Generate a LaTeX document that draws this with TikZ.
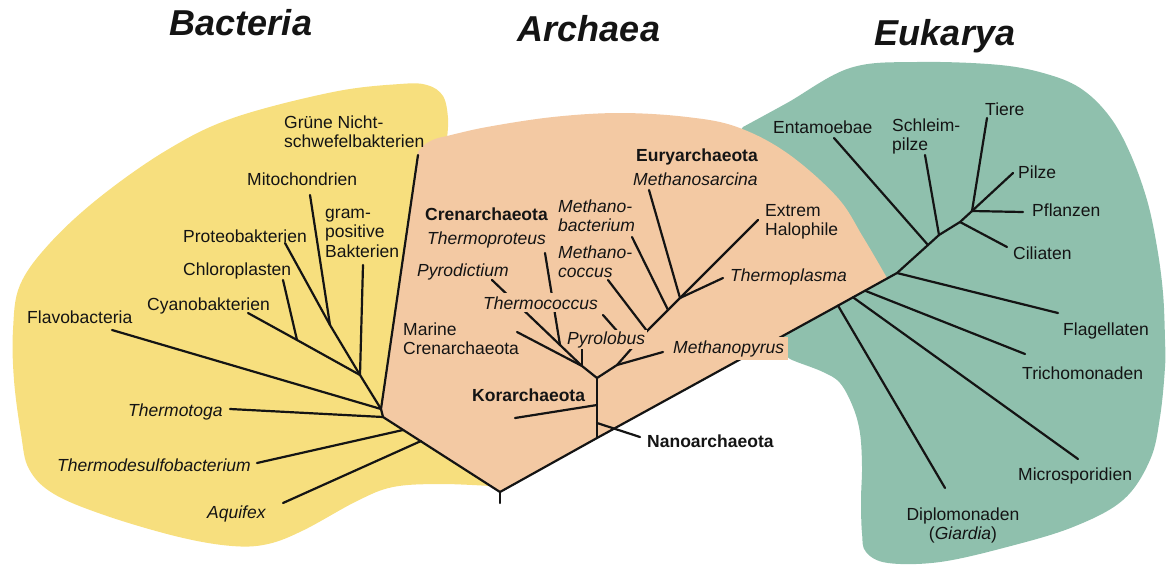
\documentclass[tikz,border=0pt]{standalone}
\usepackage{fontspec}
\setmainfont{Liberation Sans}
\definecolor{bactY}{HTML}{F7DF7E}
\definecolor{archP}{HTML}{F3C9A3}
\definecolor{eukT}{HTML}{8FC0AD}
\definecolor{inkc}{HTML}{141414}
\begin{document}
\begin{tikzpicture}[x=1pt,y=-1pt,
  lbl/.style={inner sep=0pt, text=inkc, font=\fontsize{17.5}{19.5}\selectfont},
  lblit/.style={lbl, font=\fontsize{17.5}{19.5}\selectfont\itshape},
  lblbf/.style={lbl, font=\fontsize{17.5}{19.5}\selectfont\bfseries},
  ttl/.style={inner sep=0pt, text=inkc, font=\fontsize{36}{40}\selectfont\bfseries\itshape},
  branch/.style={draw=inkc, line width=2.2pt, line cap=round, line join=round}]
\useasboundingbox (0,0) rectangle (1166,565);

% ---------- regions ----------
\fill[bactY] plot[smooth, tension=0.6] coordinates {(447,138) (448,118) (443,96) (427,85) (400,84) (333,92) (233,118) (167,150) (100,197) (50,243) (20,285) (13,330) (14,380) (21,434) (29,469) (54,494) (107,516) (179,537) (232,546) (268,544) (304,530) (357,501) (393,487) (440,484) (490,486)} -- (470,300) -- cycle;
\fill[eukT] plot[smooth, tension=0.6] coordinates {(743,127) (787,103) (850,68) (917,62) (1000,65) (1050,75) (1083,90) (1110,117) (1130,153) (1147,200) (1157,247) (1163,293) (1165,340) (1165,367) (1160,417) (1150,460) (1123,500) (1073,527) (1007,547) (940,562) (888,563) (866,552) (862,533) (861,500) (862,467) (860,433) (853,407) (840,383) (823,372) (797,362) (790,359)} -- (772,346) -- (740,300) -- (720,160) -- cycle;
\fill[archP] plot[smooth, tension=0.6] coordinates {(418,152) (424,145) (435,139) (447,136) (487,127) (553,117) (620,113) (687,117) (737,127) (787,153) (837,197) (863,237) (887,278)} -- (500,492) -- (383,417) -- (381,409) -- cycle;

% ---------- coordinates ----------
% Bacteria
\coordinate (gGr) at (418,155);
\coordinate (gMi) at (310,195);
\coordinate (gPr) at (285,243);
\coordinate (gGp) at (363,265);
\coordinate (gCh) at (283,280);
\coordinate (gCy) at (248,313);
\coordinate (gFl) at (112,330);
\coordinate (gTt) at (230,409);
\coordinate (gTd) at (257,463);
\coordinate (gAq) at (283,503);
\coordinate (jMP) at (330,325);
\coordinate (jCC) at (297,340);
\coordinate (jG) at (360,375);
\coordinate (jB) at (381,409);
\coordinate (jT) at (383,417);
\coordinate (jTD) at (403,430);
\coordinate (jAQ) at (421,441);
\coordinate (R) at (500,492);
\coordinate (Rt) at (500,503);
% Archaea
\coordinate (A0) at (597,438);
\coordinate (A) at (597,378);
\coordinate (aKo) at (515,418);
\coordinate (jKo) at (597,405);
\coordinate (jNa) at (597,423);
\coordinate (aNa) at (640,437);
\coordinate (C) at (582,366);
\coordinate (aMa) at (517,332);
\coordinate (aPd) at (492,280);
\coordinate (aTp) at (545,253);
\coordinate (jTp) at (560,345);
\coordinate (aPl) at (582,348);
\coordinate (E1) at (617,365);
\coordinate (aMp) at (663,352);
\coordinate (E2) at (632,348);
\coordinate (aTc) at (603,315);
\coordinate (E3) at (647,331);
\coordinate (aMc) at (608,280);
\coordinate (E4) at (668,310);
\coordinate (aMb) at (632,237);
\coordinate (E5) at (680,298);
\coordinate (aMs) at (649,190);
\coordinate (aEH) at (758,220);
\coordinate (aTh) at (723,278);
% Eukarya
\coordinate (K1) at (838,305.6);
\coordinate (K2) at (853,297.3);
\coordinate (K3) at (865,290.7);
\coordinate (K4) at (897,273);
\coordinate (eE) at (928,245);
\coordinate (eS) at (939,235);
\coordinate (eC) at (960,222);
\coordinate (eT) at (972,211);
\coordinate (uDi) at (945,488);
\coordinate (uMi) at (1078,459);
\coordinate (uTr) at (1025,354);
\coordinate (uFl) at (1058,313);
\coordinate (uEn) at (834,138);
\coordinate (uSc) at (925,155);
\coordinate (uTi) at (987,118);
\coordinate (uPi) at (1013,173);
\coordinate (uPf) at (1023,212);
\coordinate (uCi) at (1007,247);

% ---------- branches ----------
\draw[branch] (gGr) -- (jB) -- (jT) -- (R) -- (A0) -- (K1) -- (K2) -- (K3) -- (K4) -- (eE) -- (eS) -- (eC) -- (eT);
\draw[branch] (R) -- (Rt);
\draw[branch] (gFl) -- (jB);
\draw[branch] (jG) -- (jB);
\draw[branch] (gGp) -- (jG);
\draw[branch] (gMi) -- (jMP);
\draw[branch] (gPr) -- (jMP);
\draw[branch] (jMP) -- (jG);
\draw[branch] (gCh) -- (jCC);
\draw[branch] (gCy) -- (jCC);
\draw[branch] (jCC) -- (jG);
\draw[branch] (gTt) -- (jT);
\draw[branch] (gTd) -- (jTD);
\draw[branch] (gAq) -- (jAQ);
\draw[branch] (A0) -- (A);
\draw[branch] (aKo) -- (jKo);
\draw[branch] (jNa) -- (aNa);
\draw[branch] (A) -- (C);
\draw[branch] (aMa) -- (C);
\draw[branch] (aPd) -- (C);
\draw[branch] (aTp) -- (jTp);
\draw[branch] (aPl) -- (C);
\draw[branch] (A) -- (E1) -- (E2) -- (E3) -- (E4) -- (E5);
\draw[branch] (E1) -- (aMp);
\draw[branch] (aTc) -- (E2);
\draw[branch] (aMc) -- (E3);
\draw[branch] (aMb) -- (E4);
\draw[branch] (aMs) -- (E5);
\draw[branch] (aEH) -- (E5);
\draw[branch] (aTh) -- (E5);
\draw[branch] (uDi) -- (K1);
\draw[branch] (uMi) -- (K2);
\draw[branch] (uTr) -- (K3);
\draw[branch] (uFl) -- (K4);
\draw[branch] (uEn) -- (eE);
\draw[branch] (uSc) -- (eS);
\draw[branch] (uCi) -- (eC);
\draw[branch] (uTi) -- (eT);
\draw[branch] (uPi) -- (eT);
\draw[branch] (uPf) -- (eT);

% ---------- titles ----------
\node[ttl, anchor=base] (tB) at (241,35) {Bacteria};
\node[ttl, anchor=base] (tA) at (589,41) {Archaea};
\node[ttl, anchor=base] (tE) at (945,45) {Eukarya};

% ---------- bacteria labels ----------
\node[lbl, anchor=north west, align=left] (nGr) at (284,114.4) {\strut Grüne Nicht-\\schwefelbakterien};
\node[lbl, anchor=base west] (nMi) at (247,185) {Mitochondrien};
\node[lbl, anchor=north west, align=left] (nGp) at (325,204.4) {\strut gram-\\positive\\Bakterien};
\node[lbl, anchor=base west] (nPr) at (183,242) {Proteobakterien};
\node[lbl, anchor=base west] (nCh) at (183,275) {Chloroplasten};
\node[lbl, anchor=base west] (nCy) at (147,310) {Cyanobakterien};
\node[lbl, anchor=base west] (nFl) at (27,323) {Flavobacteria};
\node[lblit, anchor=base west] (nTt) at (128,416) {Thermotoga};
\node[lblit, anchor=base west] (nTd) at (57,471) {Thermodesulfobacterium};
\node[lblit, anchor=base west] (nAq) at (207,518) {Aquifex};

% ---------- archaea labels ----------
\node[lblbf, anchor=base west] (nCr) at (425,220) {Crenarchaeota};
\node[lblit, anchor=base west] (nTp) at (427,244) {Thermoproteus};
\node[lblit, anchor=base west] (nPd) at (417,276) {Pyrodictium};
\node[lblit, anchor=base west, fill=archP, inner sep=3pt] (nTc) at (480,309) {Thermococcus};
\node[lblit, anchor=base west, fill=archP, inner sep=1.5pt] (nPl) at (565.5,344) {Pyrolobus};
\node[lbl, anchor=north west, align=left] (nMa) at (403,321.4) {\strut Marine\\Crenarchaeota};
\node[lblbf, anchor=base west] (nKo) at (472,401) {Korarchaeota};
\node[lblbf, anchor=base west] (nNa) at (647,447) {Nanoarchaeota};
\node[lblbf, anchor=base west] (nEu) at (636,161) {Euryarchaeota};
\node[lblit, anchor=base west] (nMs) at (633,185) {Methanosarcina};
\node[lblit, anchor=north west, align=left] (nMb) at (558,198.4) {\strut Methano-\\bacterium};
\node[lblit, anchor=north west, align=left] (nMc) at (558,244.4) {\strut Methano-\\coccus};
\node[lbl, anchor=north west, align=left] (nEH) at (765,202.4) {\strut Extrem\\Halophile};
\node[lblit, anchor=base west] (nTh) at (730,281) {Thermoplasma};
\node[lblit, anchor=base west, fill=archP, inner xsep=4pt, inner ysep=3pt] (nMp) at (669,353) {Methanopyrus};

% ---------- eukarya labels ----------
\node[lbl, anchor=base west] (nEn) at (773,133) {Entamoebae};
\node[lbl, anchor=north west, align=left] (nSc) at (892,117.4) {\strut Schleim-\\pilze};
\node[lbl, anchor=base west] (nTi) at (985,115) {Tiere};
\node[lbl, anchor=base west] (nPi) at (1018,178) {Pilze};
\node[lbl, anchor=base west] (nPf) at (1032,216) {Pflanzen};
\node[lbl, anchor=base west] (nCi) at (1013,259) {Ciliaten};
\node[lbl, anchor=base west] (nFg) at (1063,335) {Flagellaten};
\node[lbl, anchor=base west] (nTr) at (1022,379) {Trichomonaden};
\node[lbl, anchor=base west] (nMi2) at (1018,480) {Microsporidien};
\node[lbl, anchor=north, align=center] (nDi) at (963,506.4) {\strut Diplomonaden\\(\textit{Giardia})};
\end{tikzpicture}
\end{document}
